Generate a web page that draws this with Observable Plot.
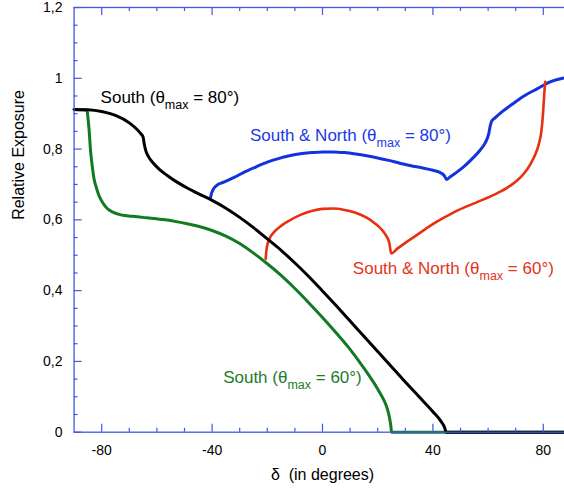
<!DOCTYPE html>
<html><head><meta charset="utf-8">
<script src="https://cdn.jsdelivr.net/npm/d3@7"></script>
<script src="https://cdn.jsdelivr.net/npm/@observablehq/plot@0.6"></script>
<style>
body{margin:0;background:#fff;overflow:hidden}
svg{display:block}
</style>
</head><body><div id="chart"></div>
<script>
// ---- data ----
// South, theta_max = 80° (black)
const s80X = [-90,-85,-80,-75,-70,-66,-65,-64.6,-64,-63,-61.5,-59,-56,-53,-49,-45,-40,-35,-30,-25,-20,-15,-10,-5,0,5,10,15,20,25,30,35,40,43,44.3,44.8,60,75,90];
const s80Y = [0.912,0.911,0.906,0.895,0.874,0.845,0.834,0.815,0.795,0.778,0.762,0.742,0.724,0.708,0.690,0.674,0.655,0.633,0.607,0.578,0.546,0.514,0.478,0.440,0.399,0.357,0.314,0.271,0.228,0.185,0.142,0.100,0.058,0.030,0.012,0,0,0,0];
// South, theta_max = 60° (green)
const s60X = [-90,-87,-85.3,-85,-84.6,-84,-83.4,-82.8,-81.9,-81,-79.5,-78,-76,-73,-69,-65,-61,-57,-53,-49,-45,-40,-35,-30,-25,-20,-15,-10,-5,0,5,10,15,20,22,23.5,24.3,24.8,25,45,90];
const s60Y = [0.912,0.911,0.909,0.890,0.858,0.792,0.750,0.717,0.690,0.669,0.647,0.632,0.622,0.614,0.610,0.607,0.604,0.600,0.595,0.589,0.582,0.570,0.554,0.533,0.506,0.476,0.443,0.406,0.366,0.324,0.280,0.234,0.181,0.122,0.094,0.066,0.040,0.015,0,0,0];
// South & North, theta_max = 80° (blue)
const sn80X = [-40.6,-40.2,-39.6,-38.5,-36,-32,-28,-24,-20,-16,-12,-8,-4,0,4,8,12,16,20,24,28,32,36,40,42.5,44,45,46,48,51,54,57,59,60.2,60.8,61.3,62.5,65,69,73,77.7,82.5,87,90];
const sn80Y = [0.662,0.675,0.686,0.696,0.706,0.720,0.736,0.750,0.763,0.773,0.781,0.787,0.790,0.792,0.792,0.790,0.786,0.781,0.775,0.768,0.760,0.753,0.747,0.740,0.734,0.726,0.714,0.720,0.731,0.749,0.771,0.796,0.818,0.842,0.866,0.879,0.888,0.905,0.928,0.950,0.970,0.990,1.000,1.004];
// South & North, theta_max = 60° (red)
const sn60X = [-20.6,-20.3,-19.8,-19,-17.5,-15,-12,-8,-4,0,4,8,12,16,19,21.5,23,24.2,24.9,27,30,34,39,44,49,56,63,67,70.5,73,75.3,77,78.3,79.3,79.9,80.3,80.7];
const sn60Y = [0.490,0.515,0.535,0.550,0.566,0.583,0.598,0.614,0.625,0.631,0.632,0.628,0.620,0.606,0.590,0.572,0.556,0.535,0.505,0.518,0.535,0.556,0.583,0.606,0.627,0.650,0.674,0.691,0.711,0.731,0.757,0.783,0.812,0.850,0.900,0.950,0.990];

const seriesNames = ["South (θmax = 80°)","South & North (θmax = 80°)","South & North (θmax = 60°)","South (θmax = 60°)"];
const labelX = [-80.4,-26.3,11.0,-36.0];
const labelY = [0.946,0.839,0.463,0.155];

const xMajor = [-80,-40,0,40,80];
const xMajorLabels = ["-80","-40","0","40","80"];
const xMinor = [-70,-60,-50,-30,-20,-10,10,20,30,50,60,70,90];
const yMajor = [0,0.2,0.4,0.6,0.8,1,1.2];
const yMajorLabels = ["0","0,2","0,4","0,6","0,8","1","1,2"];
const yMinor = [0.05,0.1,0.15,0.25,0.3,0.35,0.45,0.5,0.55,0.65,0.7,0.75,0.85,0.9,0.95,1.05,1.1,1.15];

const xTitle = "δ\u00a0 (in degrees)";
const yTitle = "Relative Exposure";

// ---- layout / style ----
const W = 564, H = 493;
const mL = 73.6, mR = -6.4, mT = 7, mB = 61.3;
const plotW = W - mL - mR, plotH = H - mT - mB;
const axisColor = "#3f58e6";
const colBlack = "#000000", colBlue = "#1232e0", colRed = "#e8300f", colGreen = "#127a22";
const textColors = [colBlack, "#1a3ae6", "#e3341a", "#1b7c2a"];
const font = "'Liberation Sans', Arial, Helvetica, sans-serif";

const zipXY = (X, Y) => X.map((x, i) => ({x, y: Y[i]}));
const labels = seriesNames.map((t, i) => ({t, x: labelX[i], y: labelY[i], c: textColors[i]}));
const xTickData = xMajor.map((v, i) => ({v, t: xMajorLabels[i]}));
const yTickData = yMajor.map((v, i) => ({v, t: yMajorLabels[i]}));

const lineOpts = (stroke, sw) => ({x: "x", y: "y", stroke, strokeWidth: sw, curve: "monotone-x", strokeLinejoin: "round"});

const chart = Plot.plot({
  width: W, height: H,
  marginLeft: mL, marginRight: mR, marginTop: mT, marginBottom: mB,
  style: {fontFamily: font, background: "#fff", color: "#000"},
  x: {domain: [-90, 90], axis: null},
  y: {domain: [0, 1.2], axis: null},
  marks: [
    Plot.line(zipXY(sn80X, sn80Y), lineOpts(colBlue, 3)),
    Plot.line(zipXY(sn60X, sn60Y), lineOpts(colRed, 2.6)),
    Plot.line(zipXY(s60X, s60Y), lineOpts(colGreen, 3)),
    Plot.line(zipXY(s80X, s80Y), lineOpts(colBlack, 3)),
    Plot.frame({stroke: axisColor, strokeWidth: 1.3}),
    // bottom ticks
    Plot.tickX(xMajor, {x: d => d, stroke: axisColor, strokeWidth: 1.2, insetTop: plotH - 8}),
    Plot.tickX(xMinor, {x: d => d, stroke: axisColor, strokeWidth: 1.2, insetTop: plotH - 4}),
    // top ticks
    Plot.tickX(xMajor, {x: d => d, stroke: axisColor, strokeWidth: 1.2, insetBottom: plotH - 8}),
    Plot.tickX(xMinor, {x: d => d, stroke: axisColor, strokeWidth: 1.2, insetBottom: plotH - 4}),
    // left ticks
    Plot.tickY(yMajor, {y: d => d, stroke: axisColor, strokeWidth: 1.2, insetRight: plotW - 8}),
    Plot.tickY(yMinor, {y: d => d, stroke: axisColor, strokeWidth: 1.2, insetRight: plotW - 4}),
    // tick labels
    Plot.text(xTickData, {x: "v", text: "t", frameAnchor: "bottom", dy: 18.5, lineAnchor: "middle", fontSize: 14, fill: "#000"}),
    Plot.text(yTickData, {y: "v", text: "t", frameAnchor: "left", dx: -11.6, textAnchor: "end", lineAnchor: "middle", fontSize: 14, fill: "#000"}),
    // axis titles
    Plot.text([xTitle], {text: d => d, frameAnchor: "bottom", dy: 42.5, lineAnchor: "middle", fontSize: 16, fill: "#000"}),
    Plot.text([yTitle], {text: d => d, frameAnchor: "left", dx: -55, rotate: -90, lineAnchor: "middle", fontSize: 16, fill: "#000"}),
    // series labels
    Plot.text(labels, {x: "x", y: "y", text: "t", fill: "c", textAnchor: "start", lineAnchor: "middle", fontSize: 17})
  ]
});

// subscript "max" in series labels
const NS = "http://www.w3.org/2000/svg";
chart.querySelectorAll("text").forEach(t => {
  const s = t.textContent;
  const i = s.indexOf("θmax");
  if (i < 0) return;
  const pre = s.slice(0, i + 1), post = s.slice(i + 4);
  while (t.firstChild) t.removeChild(t.firstChild);
  const a = document.createElementNS(NS, "tspan"); a.textContent = pre;
  const b = document.createElementNS(NS, "tspan"); b.textContent = "max";
  b.setAttribute("dy", "6"); b.setAttribute("font-size", "12.5");
  const c = document.createElementNS(NS, "tspan"); c.textContent = post;
  c.setAttribute("dy", "-6");
  t.append(a, b, c);
});

document.getElementById("chart").append(chart);
</script>
</body></html>
